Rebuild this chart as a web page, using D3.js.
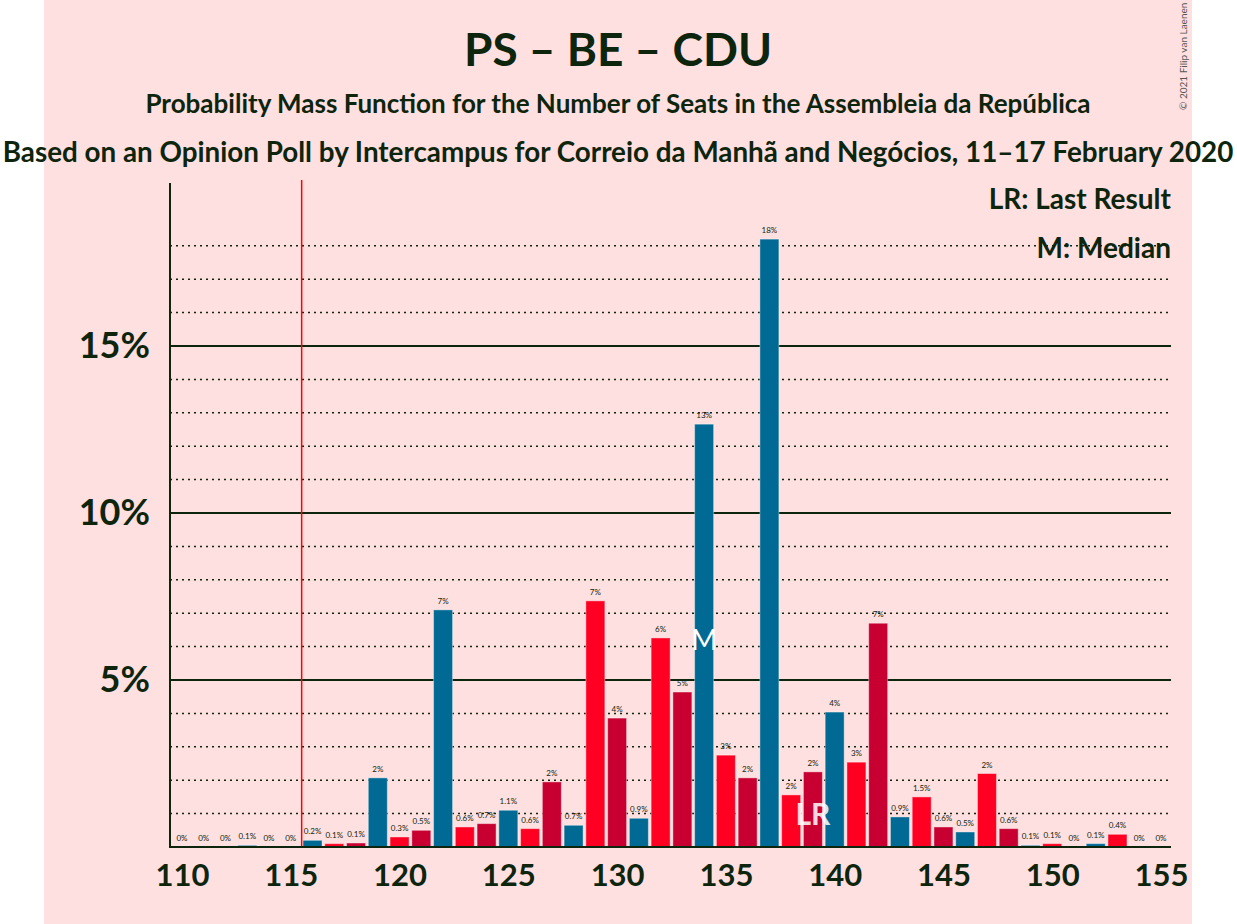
<!DOCTYPE html>
<html><head><meta charset="utf-8">
<script src="https://cdn.jsdelivr.net/npm/d3@7"></script>
<style>body{margin:0;background:#fff}text{font-family:Lato,sans-serif}</style>
</head><body><div id="chart"></div>
<script>
const seats = d3.range(110, 156)
const probs = [0, 0, 0, 0.05, 0, 0,
  0.2, 0.1, 0.12, 2.07, 0.3, 0.5, 7.1, 0.6, 0.7, 1.1, 0.55, 1.95,
  0.65, 7.37, 3.86, 0.86, 6.26, 4.64, 12.66, 2.75, 2.07, 18.2, 1.56, 2.25,
  4.04, 2.54, 6.7, 0.9, 1.5, 0.6, 0.45, 2.2, 0.55, 0.05, 0.1, 0, 0.1, 0.38, 0, 0]
const xTicks = [110, 115, 120, 125, 130, 135, 140, 145, 150, 155]
const yTicks = [5, 10, 15]
const lastResult = 139
const median = 134
const majority = 116
const colors = ['#FF0022', '#C80032', '#006994'] // by seat % 3
const ink = '#0d240d'

const W = 1237, H = 924
const svg = d3.select('#chart').append('svg').attr('width', W).attr('height', H)
svg.append('rect').attr('x', 44).attr('y', 0).attr('width', 1148).attr('height', H).attr('fill', '#FFE0E0')

const x = d3.scaleLinear().domain([110, 155]).range([182, 1161])
const y = d3.scaleLinear().domain([0, 1]).range([847, 813.6])
const bw = 19

// titles
svg.append('text').attr('x', 618).attr('y', 66).attr('text-anchor', 'middle')
  .attr('font-size', 46).attr('font-weight', 'bold').attr('fill', ink).text('PS – BE – CDU')
svg.append('text').attr('x', 618).attr('y', 113).attr('text-anchor', 'middle')
  .attr('font-size', 26).attr('font-weight', 'bold').attr('fill', ink)
  .text('Probability Mass Function for the Number of Seats in the Assembleia da República')
svg.append('text').attr('x', 618).attr('y', 162).attr('text-anchor', 'middle')
  .attr('font-size', 27.8).attr('font-weight', 'bold').attr('fill', ink)
  .text('Based on an Opinion Poll by Intercampus for Correio da Manhã and Negócios, 11–17 February 2020')
svg.append('text').attr('transform', 'translate(1187,110) rotate(-90)')
  .attr('font-size', 10).attr('fill', '#555').text('© 2021 Filip van Laenen')

// grid
const grid = svg.append('g')
d3.range(1, 19).forEach(v => {
  const major = v % 5 === 0
  grid.append('line').attr('x1', 170).attr('x2', 1171).attr('y1', y(v)).attr('y2', y(v))
    .attr('stroke', ink).attr('stroke-width', major ? 2 : 1.5)
    .attr('stroke-dasharray', major ? null : '2,4')
})

// bars
svg.selectAll('rect.bar').data(seats.map((s, i) => ({ s, v: probs[i] })).filter(d => d.v > 0))
  .enter().append('rect').attr('class', 'bar')
  .attr('x', d => x(d.s) - bw / 2).attr('width', bw)
  .attr('y', d => y(d.v)).attr('height', d => y(0) - y(d.v))
  .attr('fill', d => colors[d.s % 3])
  .attr('stroke', '#fff').attr('stroke-opacity', 0.4).attr('stroke-width', 1)

const fmt = v => v === 0 ? '0%' : v < 1.5 ? d3.format('.1f')(v) + '%' : (v < 1.55 ? '1.5%' : Math.round(v) + '%')
svg.selectAll('text.lab').data(seats.map((s, i) => ({ s, v: probs[i] })))
  .enter().append('text').attr('class', 'lab')
  .attr('x', d => x(d.s)).attr('y', d => y(d.v) - 6).attr('text-anchor', 'middle')
  .attr('font-size', 8).attr('fill', ink).text(d => fmt(d.v))

// majority line
svg.append('line').attr('x1', (x(majority - 1) + x(majority)) / 2).attr('x2', (x(majority - 1) + x(majority)) / 2)
  .attr('y1', 180).attr('y2', 847).attr('stroke', '#FF0000').attr('stroke-width', 1.5)

// markers
svg.append('text').attr('x', x(median)).attr('y', 650).attr('text-anchor', 'middle')
  .attr('font-size', 28).attr('fill', '#fff').text('M')
svg.append('text').attr('x', x(lastResult)).attr('y', 825).attr('text-anchor', 'middle')
  .attr('font-size', 30).attr('font-weight', 'bold').attr('fill', '#fff').attr('fill-opacity', 0.85).text('LR')

// axes
const gy = svg.append('g').attr('transform', 'translate(170,0)')
  .call(d3.axisLeft(y).tickValues(yTicks).tickFormat(d => d + '%').tickSize(0).tickPadding(20))
gy.select('.domain').remove()
gy.append('line').attr('y1', 183).attr('y2', 848).attr('stroke', ink).attr('stroke-width', 2)
gy.selectAll('text').attr('font-size', 36).attr('font-weight', 'bold').attr('fill', ink)
  .attr('font-family', 'Lato')

const gx = svg.append('g').attr('transform', 'translate(0,847)')
  .call(d3.axisBottom(x).tickValues(xTicks).tickFormat(d3.format('d')).tickSize(0).tickPadding(16))
gx.select('.domain').remove()
gx.append('line').attr('x1', 170).attr('x2', 1171).attr('stroke', ink).attr('stroke-width', 2)
gx.selectAll('text').attr('font-size', 31).attr('font-weight', 'bold').attr('fill', ink)
  .attr('font-family', 'Lato').attr('dy', '0.75em')

// legend
svg.append('text').attr('x', 1171).attr('y', 209).attr('text-anchor', 'end')
  .attr('font-size', 28).attr('font-weight', 'bold').attr('fill', ink).text('LR: Last Result')
svg.append('text').attr('x', 1171).attr('y', 258).attr('text-anchor', 'end')
  .attr('font-size', 28).attr('font-weight', 'bold').attr('fill', ink).text('M: Median')
</script></body></html>
